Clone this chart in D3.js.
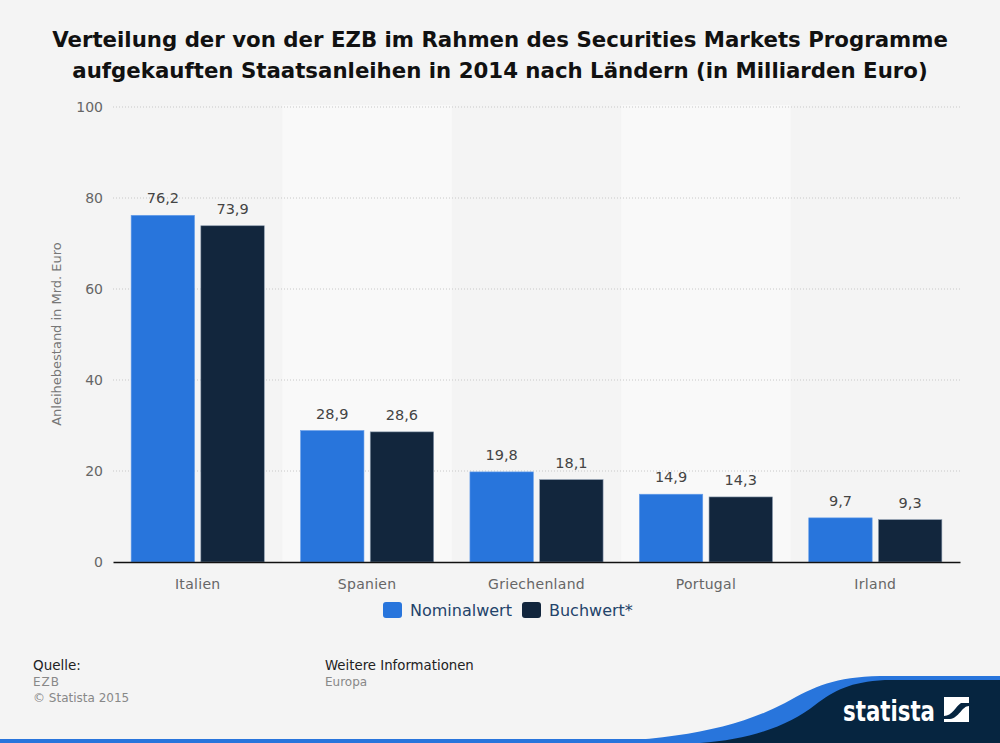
<!DOCTYPE html>
<html><head><meta charset="utf-8">
<script src="https://cdn.jsdelivr.net/npm/d3@7"></script>
<style>body{margin:0;background:#f4f4f4;}svg{display:block;font-family:"DejaVu Sans",sans-serif;}</style>
</head><body>
<svg id="c" width="1000" height="743"></svg>
<script>
const categories = ["Italien","Spanien","Griechenland","Portugal","Irland"];
const seriesNames = ["Nominalwert","Buchwert*"];
const nominalwert = [76.2, 28.9, 19.8, 14.9, 9.7];
const buchwert = [73.9, 28.6, 18.1, 14.3, 9.3];
const yTicks = [0,20,40,60,80,100];
const colors = ["#2875dc","#12263d"];

const svg = d3.select("#c");
svg.append("rect").attr("width",1000).attr("height",743).attr("fill","#f4f4f4");

// title
const title = svg.append("text").attr("text-anchor","middle").attr("font-weight","bold")
  .attr("font-size",21.3).attr("fill","#111");
title.append("tspan").attr("x",500).attr("y",47).text("Verteilung der von der EZB im Rahmen des Securities Markets Programme");
title.append("tspan").attr("x",500).attr("y",78).text("aufgekauften Staatsanleihen in 2014 nach Ländern (in Milliarden Euro)");

const x = d3.scaleBand().domain(categories).range([113,960]).padding(0);
const y = d3.scaleLinear().domain([0,100]).range([562,107]);
const xs = d3.scaleBand().domain(seriesNames).range([0,x.bandwidth()]).paddingInner(0.09).paddingOuter(0.26);

// alternating bands
svg.append("g").selectAll("rect").data(categories.filter((d,i)=>i%2===1)).join("rect")
  .attr("x",d=>x(d)).attr("width",x.bandwidth()).attr("y",105).attr("height",562-105).attr("fill","#f9f9f9");

// grid
svg.append("g").selectAll("line").data(yTicks.filter(d=>d>0)).join("line")
  .attr("x1",113).attr("x2",960).attr("y1",d=>y(d)).attr("y2",d=>y(d))
  .attr("stroke","#c8c8c8").attr("stroke-dasharray","1,2");

// y tick labels
const yAxis = d3.axisLeft(y).tickValues(yTicks).tickSize(0).tickPadding(10);
const ga = svg.append("g").attr("transform","translate(113,0)").call(yAxis);
ga.select(".domain").remove();
ga.selectAll("text").attr("font-size",14).attr("fill","#666").attr("font-family","DejaVu Sans, sans-serif");

// y label
svg.append("text").attr("transform","translate(61,334) rotate(-90)").attr("text-anchor","middle")
  .attr("font-size",13).attr("fill","#777").text("Anleihebestand in Mrd. Euro");

// bars
const data = categories.map((c,i)=>({c, vals:[{s:seriesNames[0],v:nominalwert[i]},{s:seriesNames[1],v:buchwert[i]}]}));
const g = svg.append("g").selectAll("g").data(data).join("g").attr("transform",d=>`translate(${x(d.c)},0)`);
g.selectAll("rect").data(d=>d.vals).join("rect")
  .attr("x",d=>xs(d.s)).attr("width",xs.bandwidth()).attr("y",d=>y(d.v)).attr("height",d=>562-y(d.v))
  .attr("fill",(d,i)=>colors[i]).attr("stroke",(d,i)=>i? "#8a9aae":"#6aa0ea").attr("stroke-width",0.6);
g.selectAll("text").data(d=>d.vals).join("text")
  .attr("x",d=>xs(d.s)+xs.bandwidth()/2).attr("y",d=>y(d.v)-12).attr("text-anchor","middle")
  .attr("font-size",14.5).attr("fill","#444").text(d=>d3.format(".1f")(d.v).replace(".",","));

// x axis
const xAxis = d3.axisBottom(x).tickSize(0).tickPadding(17);
const gx = svg.append("g").attr("transform","translate(0,562)").call(xAxis);
gx.select(".domain").attr("stroke","#111").attr("stroke-width",1.3);
gx.selectAll("text").attr("font-size",14).attr("fill","#666").attr("font-family","DejaVu Sans, sans-serif").attr("letter-spacing","0.3px");

// legend
const legX = [383,522];
seriesNames.forEach((s,i)=>{
  svg.append("rect").attr("x",legX[i]).attr("y",602).attr("width",19).attr("height",16).attr("rx",3).attr("fill",colors[i]);
  svg.append("text").attr("x",legX[i]+27).attr("y",616).attr("font-size",16).attr("fill","#23436a").text(s);
});

// footer
svg.append("text").attr("x",33).attr("y",670).attr("font-size",13.5).attr("fill","#222").text("Quelle:");
svg.append("text").attr("x",33).attr("y",686).attr("font-size",12).attr("fill","#888").attr("letter-spacing","1px").text("EZB");
svg.append("text").attr("x",33).attr("y",702).attr("font-size",12).attr("fill","#888").text("© Statista 2015");
svg.append("text").attr("x",325).attr("y",670).attr("font-size",13.3).attr("fill","#222").text("Weitere Informationen");
svg.append("text").attr("x",325).attr("y",686).attr("font-size",12).attr("fill","#888").text("Europa");

// bottom wave
svg.append("rect").attr("x",0).attr("y",739).attr("width",1000).attr("height",4).attr("fill","#2875dc");
svg.append("path").attr("d","M560,743 C660,742 730,732 785,703 C815,686 835,677 880,676 L1000,676 L1000,743 Z").attr("fill","#2875dc");
svg.append("path").attr("d","M700,743 C750,740 790,725 815,705 C835,690 850,682 885,680 L1000,680 L1000,743 Z").attr("fill","#062540");
svg.append("text").attr("x",843).attr("y",721).attr("font-size",29).attr("font-weight","bold").attr("fill","#fff")
  .attr("font-family","DejaVu Sans Condensed, DejaVu Sans, sans-serif").attr("textLength",92).attr("lengthAdjust","spacingAndGlyphs").text("statista");
svg.append("rect").attr("x",944).attr("y",697).attr("width",25).attr("height",25).attr("fill","#fff");
svg.append("path").attr("d","M944,716 C952,716 956,706 961,703 L969,703 L969,706 C962,706 959,718 950,719 L944,719 Z").attr("fill","#062540");
</script>
</body></html>
